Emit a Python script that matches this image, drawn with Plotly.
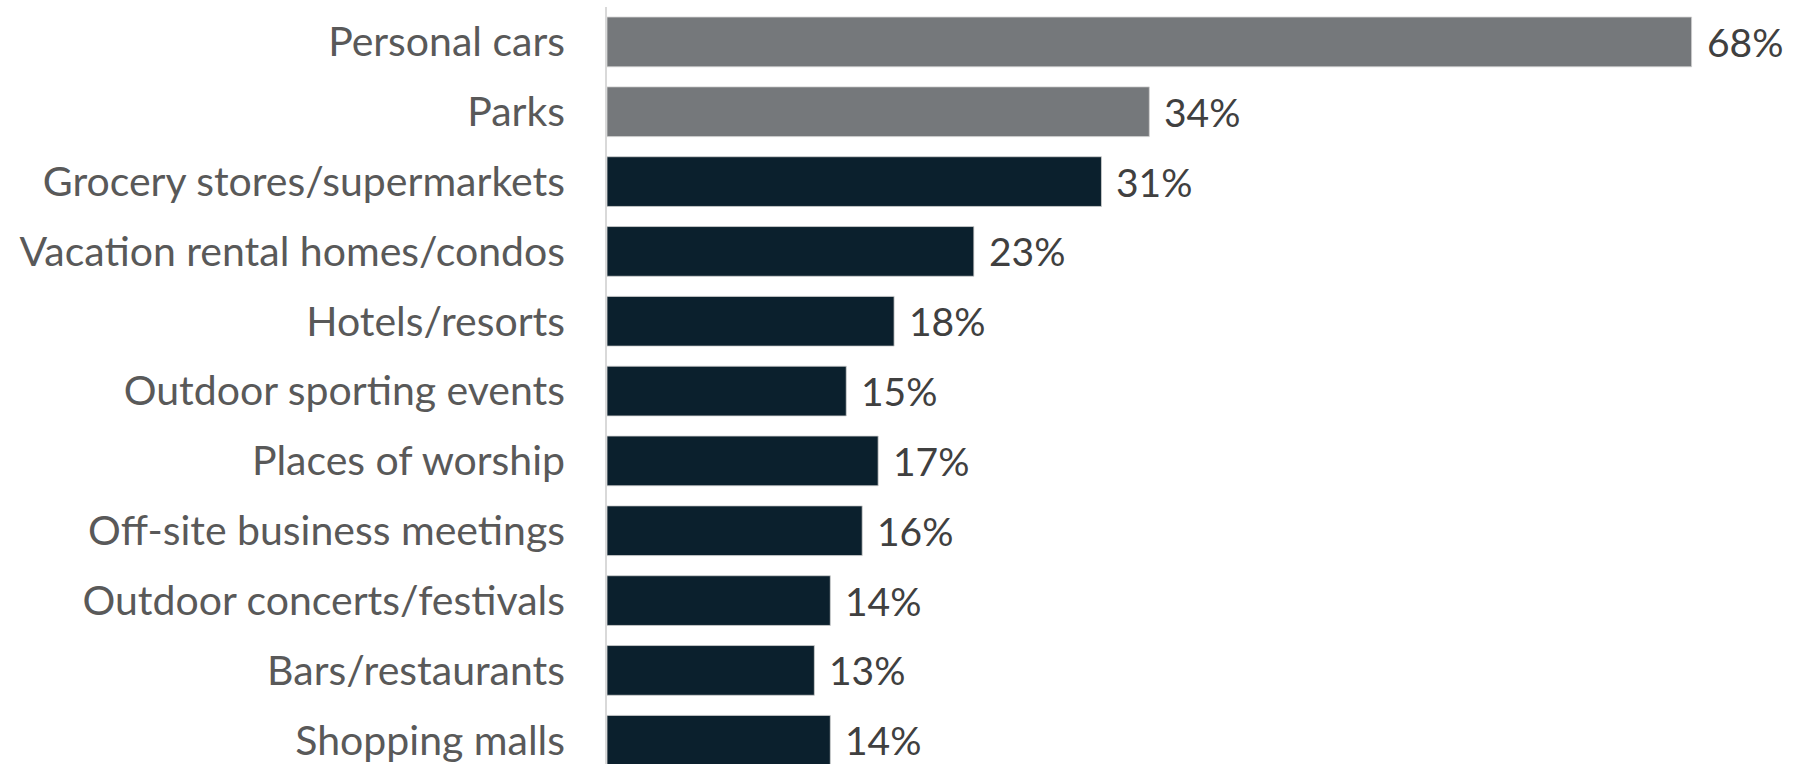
import plotly.graph_objects as go

categories = [
    "Personal cars",
    "Parks",
    "Grocery stores/supermarkets",
    "Vacation rental homes/condos",
    "Hotels/resorts",
    "Outdoor sporting events",
    "Places of worship",
    "Off-site business meetings",
    "Outdoor concerts/festivals",
    "Bars/restaurants",
    "Shopping malls",
]
values = [68, 34, 31, 23, 18, 15, 17, 16, 14, 13, 14]
bar_colors = ["#75787B", "#75787B"] + ["#0B202D"] * 9

FONT = "Lato"

fig = go.Figure(
    go.Bar(
        x=values,
        y=categories,
        orientation="h",
        marker=dict(color=bar_colors, line=dict(color="#d0d0d0", width=0.8)),
        cliponaxis=True,
        hoverinfo="skip",
    )
)

# value labels to the right of each bar
for cat, v in zip(categories, values):
    fig.add_annotation(
        x=v,
        y=cat,
        text=f"{v}%",
        showarrow=False,
        xanchor="left",
        yanchor="middle",
        xshift=13,
        font=dict(family=FONT, size=39, color="#404040"),
    )

fig.update_layout(
    width=1807,
    height=764,
    margin=dict(l=607, r=0, t=7, b=0),
    paper_bgcolor="white",
    plot_bgcolor="white",
    bargap=0.288,
    showlegend=False,
)
fig.update_xaxes(
    range=[0, 1200 / 15.95],
    showgrid=False,
    zeroline=False,
    showticklabels=False,
    showline=False,
)
fig.update_yaxes(
    type="category",
    categoryorder="array",
    categoryarray=categories,
    range=[10.34, -0.5],
    autorange=False,
    showgrid=False,
    zeroline=False,
    showline=True,
    linecolor="#D9D9D9",
    linewidth=1.5,
    ticks="",
    ticklabelstandoff=32,
    tickfont=dict(family=FONT, size=41, color="#595959"),
)

fig.write_html("out.html")
